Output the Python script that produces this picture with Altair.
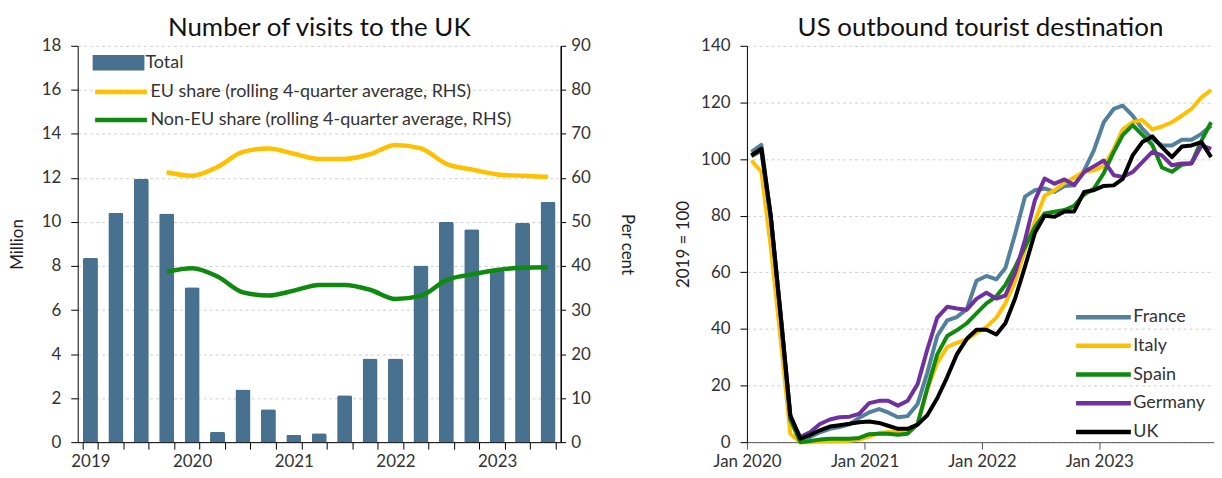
import altair as alt
import pandas as pd

FONT = "Lato"

# ---------------- Left panel data ----------------
quarters = ["2019 Q1", "2019 Q2", "2019 Q3", "2019 Q4", "2020 Q1", "2020 Q2", "2020 Q3", "2020 Q4",
            "2021 Q1", "2021 Q2", "2021 Q3", "2021 Q4", "2022 Q1", "2022 Q2", "2022 Q3", "2022 Q4",
            "2023 Q1", "2023 Q2", "2023 Q3"]
total_visits = [8.38, 10.42, 11.96, 10.38, 7.04, 0.47, 2.39, 1.49, 0.34, 0.41, 2.13, 3.8, 3.8,
                8.02, 10.0, 9.67, 7.8, 9.95, 10.92]
share_quarters = ["2019 Q4", "2020 Q1", "2020 Q2", "2020 Q3", "2020 Q4", "2021 Q1", "2021 Q2", "2021 Q3",
                  "2021 Q4", "2022 Q1", "2022 Q2", "2022 Q3", "2022 Q4", "2023 Q1", "2023 Q2", "2023 Q3"]
eu_share = [61.3, 60.5, 62.5, 65.9, 66.7, 65.5, 64.3, 64.3, 65.4, 67.5, 66.7, 63.2, 61.9, 60.8, 60.5, 60.2]
non_eu_share = [38.7, 39.5, 37.6, 34.0, 33.3, 34.4, 35.7, 35.7, 34.6, 32.5, 33.2, 36.8, 38.1, 39.1, 39.6, 39.7]

EU_LABEL = "EU share (rolling 4-quarter average, RHS)"
NONEU_LABEL = "Non-EU share (rolling 4-quarter average, RHS)"

# ---------------- Right panel data ----------------
months = [f"{y}-{m:02d}-15" for y in range(2020, 2024) for m in range(1, 13)]
france = [102.5, 105, 80, 45, 9.5, 1.2, 1.8, 3.5, 4.7, 5.3,
          6.3, 8.6, 10.5, 11.7, 10.5, 8.8, 9.2, 13.5, 24.5, 37.5,
          43, 44.2, 47, 57, 58.7, 57.5, 61.5, 73.8, 86.7, 89,
          89.6, 88.4, 90.5, 90.7, 96, 103, 113, 117.7, 118.9, 115.3,
          110.7, 107.1, 104.8, 104.8, 106.8, 106.8, 108.9, 111.8]
italy = [99.5, 95.5, 69, 36, 3, 0, 0, 0.2, 0.3, 0.3,
         0.5, 0.9, 2, 3.2, 3.6, 3.7, 3.7, 6.4, 18.7, 28,
         33.6, 35.1, 36.3, 38.6, 40.7, 44, 49, 57, 68, 78,
         87, 89, 91.5, 93.5, 95.5, 96, 97.5, 103.5, 110.5, 113,
         113.8, 110.5, 111.5, 113, 115.3, 117.7, 121.8, 124.4]
spain = [101, 103, 79, 44, 8, 0, 0.4, 0.9, 1.2, 1.2,
         1.2, 1.5, 2.8, 3, 3, 2.6, 3, 6.4, 19, 31,
         37.5, 39.5, 42, 45.5, 49, 51.5, 55.5, 62, 69, 76,
         80.8, 81.4, 82, 83.5, 87.5, 89.5, 95, 102.5, 108.5, 112,
         108.5, 105, 97, 95.5, 98, 98.5, 106.5, 113]
germany = [101.5, 103, 80, 45, 9, 1.8, 3.5, 6.4, 8, 8.8,
           9, 10, 13.8, 14.6, 14.6, 12.9, 14.6, 20.5, 32.7, 44,
           47.8, 47.2, 46.8, 50.6, 52.8, 50.7, 51.8, 60, 71.4, 85.5,
           93.1, 91.3, 92.8, 90.8, 95.4, 97.4, 99.5, 94.3, 93.7, 95.4,
           98.9, 102.5, 101.3, 97.8, 98.4, 98.4, 104.8, 103.6]
uk = [101.3, 103.7, 80, 44.5, 9.4, 1.2, 2.5, 4.2, 5.5, 6,
      6.5, 7, 7.3, 6.8, 5.8, 4.7, 4.7, 6.2, 9.5, 15.5,
      23, 31, 36.5, 39.7, 39.7, 38, 42, 51, 62, 74,
      80, 79.6, 81.5, 81.5, 88.4, 89, 90.5, 90.7, 93, 101.3,
      106, 108, 104.2, 100.7, 104.4, 104.8, 106, 100.7]

countries = ["France", "Italy", "Spain", "Germany", "UK"]
country_colors = ["#53809C", "#FFC000", "#0E8A0E", "#7030A0", "#000000"]

BAR_COLOR = "#48708F"
YELLOW = "#FFC000"
GREEN = "#0E8A0E"

# ---------------- Left panel ----------------
bar_df = pd.DataFrame({"quarter": quarters, "visits": total_visits, "series": ["Total"] * len(quarters)})
line_df = pd.DataFrame({
    "quarter": share_quarters + share_quarters,
    "share": eu_share + non_eu_share,
    "series": [EU_LABEL] * len(share_quarters) + [NONEU_LABEL] * len(share_quarters),
})

x_left = alt.X(
    "quarter:O",
    scale=alt.Scale(domain=quarters, paddingInner=0.41, paddingOuter=0.205),
    axis=alt.Axis(
        title=None,
        labelExpr="test(/Q1/, '' + datum.label) ? substring('' + datum.label, 0, 4) : ''",
        labelAngle=0, tickBand="extent", tickSize=7, labelPadding=4,
        domainColor="#000000", tickColor="#000000",
    ),
)

bars = alt.Chart(bar_df).mark_bar(cornerRadiusTopLeft=2, cornerRadiusTopRight=2).encode(
    x=x_left,
    y=alt.Y("visits:Q", scale=alt.Scale(domain=[0, 18], nice=False),
            axis=alt.Axis(title="Million", values=list(range(0, 19, 2)), grid=True,
                          gridDash=[3, 3], gridColor="#cfcfcf", tickSize=7, labelPadding=10,
                          titlePadding=15, domainColor="#000000", tickColor="#000000")),
    fill=alt.Fill("series:N", scale=alt.Scale(domain=["Total"], range=[BAR_COLOR]),
                  legend=alt.Legend(title=None, orient="none", legendX=15, legendY=7,
                                    symbolType="M-1,-0.78H4.2V0.78H-1Z", symbolSize=400,
                                    symbolStrokeWidth=0, labelOffset=33)),
)

lines = alt.Chart(line_df).mark_line(strokeWidth=4.5, interpolate="monotone").encode(
    x=x_left,
    y=alt.Y("share:Q", scale=alt.Scale(domain=[0, 90], nice=False),
            axis=alt.Axis(title="Per cent", orient="right", values=list(range(0, 91, 10)), grid=False,
                          tickSize=5, labelPadding=5, titleAngle=90, titlePadding=27,
                          domainColor="#000000", tickColor="#000000", domainWidth=1.5)),
    stroke=alt.Stroke("series:N", scale=alt.Scale(domain=[EU_LABEL, NONEU_LABEL], range=[YELLOW, GREEN]),
                      legend=alt.Legend(title=None, orient="none", legendX=15, legendY=34,
                                        symbolType="M-1,0H4.2", symbolSize=400, symbolStrokeWidth=4.5,
                                        labelOffset=33, rowPadding=6, labelLimit=600)),
)

left = alt.layer(bars, lines).resolve_scale(y="independent", fill="independent", stroke="independent").properties(
    width=485, height=398,
    title=alt.TitleParams("Number of visits to the UK", fontSize=26, fontWeight="normal", offset=-4),
)

# ---------------- Right panel ----------------
rows = []
for name, vals in zip(countries, [france, italy, spain, germany, uk]):
    for m, v in zip(months, vals):
        rows.append({"month": m, "index": v, "country": name})
right_df = pd.DataFrame(rows)

year_ticks = [alt.DateTime(year=y, month=1, date=1, utc=True) for y in [2020, 2021, 2022, 2023]]

right = alt.Chart(right_df).mark_line(strokeWidth=4, strokeJoin="round").encode(
    x=alt.X("month:T",
            scale=alt.Scale(type="utc",
                            domain=[alt.DateTime(year=2020, month=1, date=1, utc=True),
                                    alt.DateTime(year=2023, month=12, date=24, utc=True)]),
            axis=alt.Axis(title=None, values=year_ticks, format="%b %Y", labelFlush=False,
                          tickSize=7, labelPadding=4, grid=False,
                          domainColor="#555555", tickColor="#555555")),
    y=alt.Y("index:Q", scale=alt.Scale(domain=[0, 140], nice=False),
            axis=alt.Axis(title="2019 = 100", values=list(range(0, 141, 20)), grid=True,
                          gridDash=[3, 3], gridColor="#cfcfcf", tickSize=7, labelPadding=10,
                          titlePadding=8, domainColor="#000000", tickColor="#000000")),
    color=alt.Color("country:N",
                    scale=alt.Scale(domain=countries, range=country_colors),
                    legend=alt.Legend(title=None, orient="none", legendX=328, legendY=260,
                                      symbolType="M-1,0H4.5", symbolSize=400, symbolStrokeWidth=4.5,
                                      labelOffset=35, rowPadding=6.8)),
).properties(
    width=469, height=398,
    title=alt.TitleParams("US outbound tourist destination", fontSize=26, fontWeight="normal", offset=-4),
)

chart = alt.hconcat(left, right, spacing=39).resolve_scale(
    color="independent", fill="independent", stroke="independent"
).resolve_legend(
    color="independent", fill="independent", stroke="independent"
).properties(
    padding={"left": 0, "top": 6, "right": 0, "bottom": 0}
).configure(
    font=FONT,
).configure_axis(
    labelFont=FONT, titleFont=FONT, labelFontSize=17, titleFontSize=17,
    labelColor="#333333", titleColor="#222222", titleFontWeight="normal",
).configure_legend(
    labelFont=FONT, labelFontSize=18, labelColor="#333333", padding=0,
).configure_title(
    font=FONT, color="#111111", anchor="middle",
).configure_view(
    stroke=None,
)

chart.save("out.html", embed_options={"renderer": "svg", "actions": False})
